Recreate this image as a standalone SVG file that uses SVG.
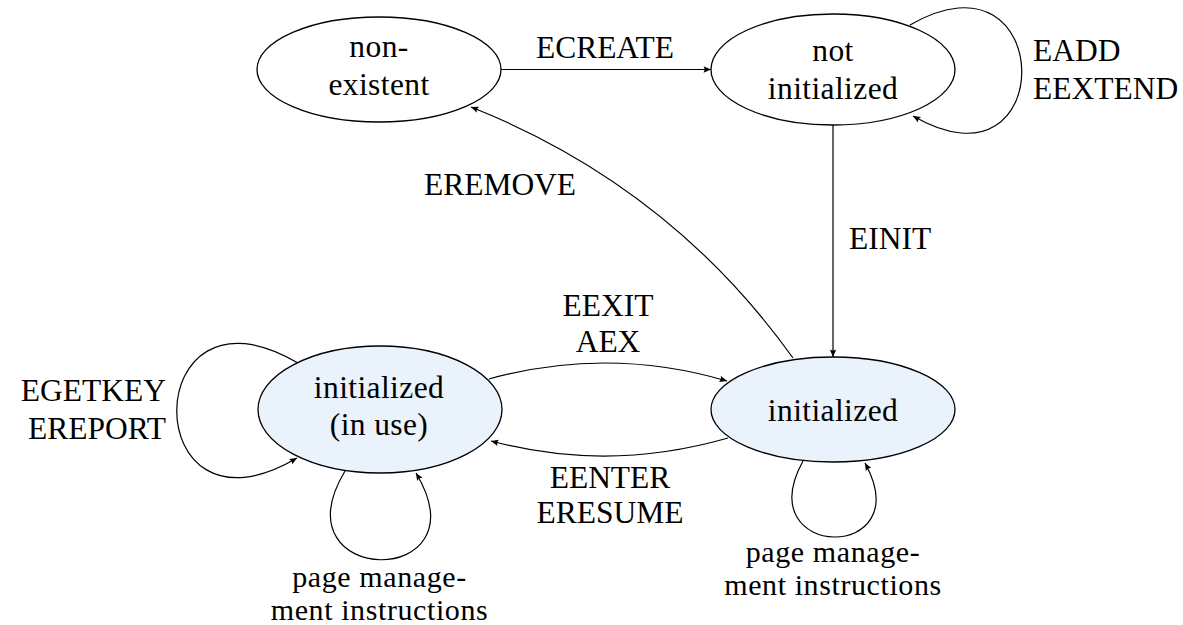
<svg xmlns="http://www.w3.org/2000/svg" width="1183" height="625" viewBox="0 0 1183 625">
  <style>
    .state { stroke: #000; stroke-width: 1.3; fill: #fff; }
    .state.active { fill: #eaf2fb; }
    .edge { fill: none; stroke: #000; stroke-width: 1.2; marker-end: url(#arrow); }
    .t { font-family: 'Liberation Serif', serif; font-size: 22px; }
    .node { letter-spacing: 0.28px; }
    .small { letter-spacing: 0.44px; }
    .mid { text-anchor: middle; }
    .end { text-anchor: end; }
  </style>
  <defs>
    <marker id="arrow" viewBox="-9 -5 10 10" refX="0" refY="0" markerWidth="10" markerHeight="10" markerUnits="userSpaceOnUse" orient="auto">
      <path d="M0,0 L-7.5,-3.2 Q-5.4,0 -7.5,3.2 Z" fill="#000"/>
    </marker>
  </defs>

  <!-- connectors -->
  <g id="connectors">
    <path class="edge" d="M501,69.5 L711,69.5"/>
    <path class="edge" d="M833,125 L833,357"/>
    <path class="edge" d="M793,358 Q670,186 471,107"/>
    <path class="edge" d="M489,379 Q608,346 727,381"/>
    <path class="edge" d="M728,438 Q608,472.5 491,441"/>
    <!-- self loops -->
    <path class="edge" d="M910,25 C1057,-60 1060,201 913,116"/>
    <path class="edge" d="M298,363 C137,268 136,553 297,458"/>
    <path class="edge" d="M345,471 C275,588 486,590 416,473"/>
    <path class="edge" d="M803,461 C748,561 920,563 865,463"/>
  </g>

  <!-- edge labels: 22px type scaled up to about 31.5px -->
  <g id="edge-labels">
    <text class="t mid" transform="translate(605,58) scale(1.4318)">ECREATE</text>
    <text class="t" transform="translate(1033,61) scale(1.4318)">EADD</text>
    <text class="t" transform="translate(1033,99) scale(1.4318)">EEXTEND</text>
    <text class="t" transform="translate(849,249) scale(1.4318)">EINIT</text>
    <text class="t mid" transform="translate(500,195) scale(1.4318)">EREMOVE</text>
    <text class="t mid" transform="translate(608,316) scale(1.4318)">EEXIT</text>
    <text class="t mid" transform="translate(608,352) scale(1.4318)">AEX</text>
    <text class="t mid" transform="translate(610,488) scale(1.4318)">EENTER</text>
    <text class="t mid" transform="translate(610,523) scale(1.4318)">ERESUME</text>
    <text class="t end" transform="translate(166,401) scale(1.4318)">EGETKEY</text>
    <text class="t end" transform="translate(166,439) scale(1.4318)">EREPORT</text>
  </g>
  <g id="page-labels">
    <text class="t small mid" transform="translate(379.5,587) scale(1.3636)">page manage-</text>
    <text class="t small mid" transform="translate(379.5,620) scale(1.3636)">ment instructions</text>
    <text class="t small mid" transform="translate(833,562) scale(1.3636)">page manage-</text>
    <text class="t small mid" transform="translate(833,595) scale(1.3636)">ment instructions</text>
  </g>

  <!-- states -->
  <g id="non-existent">
    <ellipse class="state" cx="379" cy="69.5" rx="122" ry="52.5"/>
    <text class="t node mid" transform="translate(379,57) scale(1.4318)">non-</text>
    <text class="t node mid" transform="translate(379,95) scale(1.4318)">existent</text>
  </g>
  <g id="not-initialized">
    <ellipse class="state" cx="833" cy="69.5" rx="122" ry="55.5"/>
    <text class="t node mid" transform="translate(833,61) scale(1.4318)">not</text>
    <text class="t node mid" transform="translate(833,99) scale(1.4318)">initialized</text>
  </g>
  <g id="initialized">
    <ellipse class="state active" cx="833" cy="409.5" rx="122" ry="52.5"/>
    <text class="t node mid" transform="translate(833,421) scale(1.4318)">initialized</text>
  </g>
  <g id="initialized-in-use">
    <ellipse class="state active" cx="380" cy="409.5" rx="122" ry="63.5"/>
    <text class="t node mid" transform="translate(379,398) scale(1.4318)">initialized</text>
    <text class="t node mid" transform="translate(379,435) scale(1.4318)">(in use)</text>
  </g>
</svg>
